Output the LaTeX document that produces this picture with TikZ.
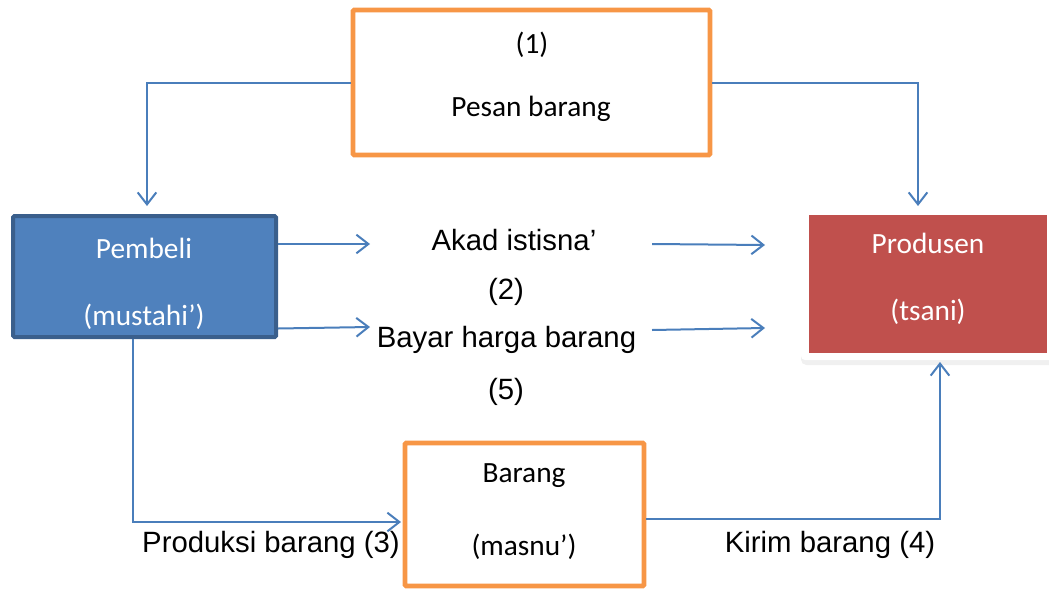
\documentclass[tikz,border=0pt]{standalone}
\usepackage{fontspec}
\setmainfont{Liberation Sans}
\newfontfamily\boxfont{Carlito}
\usetikzlibrary{arrows.meta}
\definecolor{akadorange}{HTML}{F79646}
\definecolor{akadblue}{HTML}{4F81BD}
\definecolor{akadnavy}{HTML}{3A5F8C}
\definecolor{akadred}{HTML}{C0504D}
\definecolor{akadline}{HTML}{4A7EBB}

\begin{document}
\begin{tikzpicture}[x=0.75pt, y=-0.75pt,
	orangebox/.style={draw=akadorange, line width=3.6pt, fill=white, rounded corners=1pt, inner sep=0pt},
	bluebox/.style={draw=akadnavy, line width=3pt, fill=akadblue, rounded corners=1pt, inner sep=0pt},
	redbox/.style={fill=akadred, inner sep=0pt},
	boxtxt/.style={font=\boxfont\fontsize{22}{26}\selectfont, inner sep=0pt},
	whitetxt/.style={boxtxt, text=white},
	lbl/.style={font=\fontsize{22}{26}\selectfont, inner sep=0pt},
	flow/.style={draw=akadline, line width=1.5pt, -{Straight Barb[length=9pt, width=14pt, line width=1.5pt]}}]
	%%%%% START %%%%%
	\useasboundingbox (0,0) rectangle (1049,589);
	
	% boxes
	\node[orangebox, minimum width=267.75pt, minimum height=108.75pt] (pesan) at (531.5,82.5) {};
	\node[bluebox, minimum width=197.25pt, minimum height=90.75pt] (pembeli) at (144.5,276.5) {};
	\fill[black!12, rounded corners=4pt] (802,210) rectangle (1058,363);
	\fill[black!6, rounded corners=4pt] (801,209) rectangle (1058,365);
	\fill[white, rounded corners=3pt] (801,207) rectangle (1056,360);
	\node[redbox, minimum width=178.5pt, minimum height=103.5pt] (produsen) at (928,284) {};
	\node[orangebox, minimum width=179.25pt, minimum height=107.25pt] (barang) at (524.5,514.5) {};
	
	% box texts
	\node[boxtxt] (satu) at (532,45) {(1)};
	\node[boxtxt] (pesantxt) at (531,109) {Pesan barang};
	\node[whitetxt] (pembelitxt) at (144,248) {Pembeli};
	\node[whitetxt] (mustahi) at (144,317) {(mustahi’)};
	\node[whitetxt] (produsentxt) at (928,243) {Produsen};
	\node[whitetxt] (tsani) at (928,312) {(tsani)};
	\node[boxtxt] (barangtxt) at (524,476) {Barang};
	\node[boxtxt] (masnu) at (524,547) {(masnu’)};
	
	% labels
	\node[lbl] (akad) at (514,240) {Akad istisna’};
	\node[lbl] (dua) at (506,292) {(2)};
	\node[lbl] (bayar) at (506.5,340) {Bayar harga barang};
	\node[lbl] (lima) at (506,392) {(5)};
	\node[lbl] (produksi) at (271,545) {Produksi barang (3)};
	\node[lbl] (kirim) at (830,545) {Kirim barang (4)};
	
	% arrow ends
	\coordinate (tipbeli) at (147,206);
	\coordinate (tipprod) at (918,206);
	\coordinate (akadin) at (370,244);
	\coordinate (akadout) at (652,244);
	\coordinate (akadtip) at (765,245);
	\coordinate (bayarin) at (370,327);
	\coordinate (bayarout) at (652,330);
	\coordinate (bayartip) at (765,328);
	\coordinate (tipbarang) at (401,522);
	\coordinate (tipkirim) at (940,362);
	
	% connectors
	\draw[flow] (pesan.west) -| (tipbeli);
	\draw[flow] (pesan.east) -| (tipprod);
	\draw[flow] (pembeli.east |- akadin) -- (akadin);
	\draw[flow] (akadout) -- (akadtip);
	\draw[flow] ([yshift=-39pt]pembeli.east) -- (bayarin);
	\draw[flow] (bayarout) -- (bayartip);
	\draw[flow] ([xshift=-8.6pt]pembeli.south) |- (tipbarang);
	\draw[flow] ([yshift=-3.4pt]barang.east) -| (tipkirim);
	%%%%% END %%%%%
\end{tikzpicture}
\end{document}
